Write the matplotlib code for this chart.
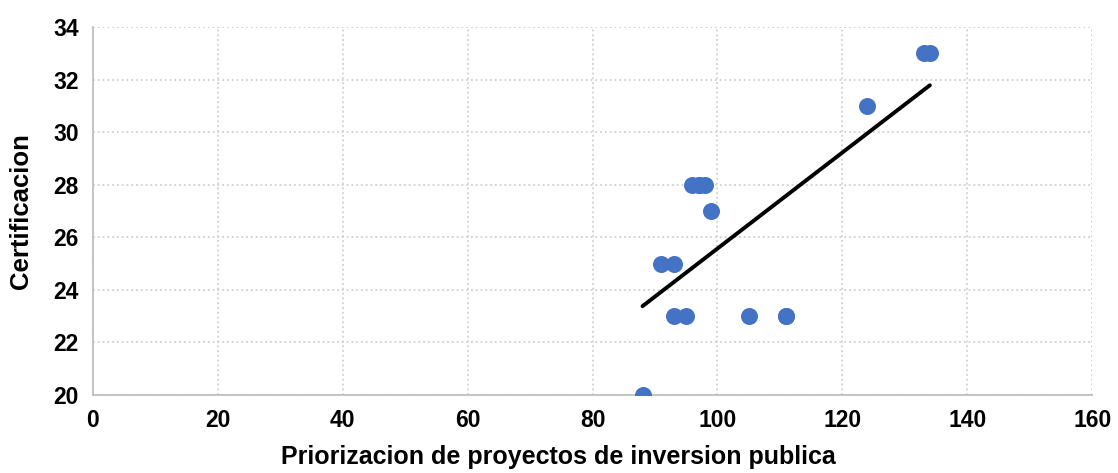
import numpy as np
import matplotlib
matplotlib.use("Agg")
import matplotlib.pyplot as plt

# Priorizacion vs Certificacion (some points overlap in the chart)
priorizacion = [88, 93, 95, 105, 111, 111, 91, 93, 99, 96, 97, 97, 98, 124, 133, 134]
certificacion = [20, 23, 23, 23, 23, 23, 25, 25, 27, 28, 28, 28, 28, 31, 33, 33]
x_ticks = [0, 20, 40, 60, 80, 100, 120, 140, 160]
y_ticks = [20, 22, 24, 26, 28, 30, 32, 34]

plt.rcParams['font.family'] = ['Liberation Sans', 'DejaVu Sans']

fig = plt.figure(figsize=(11.18, 4.73), dpi=100)
ax = fig.add_axes([0.083, 0.165, 0.894, 0.778])

ax.scatter(priorizacion, certificacion, s=150, color='#4472C4', zorder=3, linewidths=0)

# linear trend line
m, b = np.polyfit(priorizacion, certificacion, 1)
xs = np.array([min(priorizacion), max(priorizacion)])
ax.plot(xs, m * xs + b, color='black', lw=2.8, zorder=4, solid_capstyle='round')

ax.set_xlim(0, 160)
ax.set_ylim(20, 34)
ax.set_xticks(x_ticks)
ax.set_yticks(y_ticks)
ax.grid(True, linestyle=':', color='#D0D0D0', lw=1.3)
ax.set_axisbelow(True)

for s in ['top', 'right']:
    ax.spines[s].set_visible(False)
for s in ['left', 'bottom']:
    ax.spines[s].set_color('#BFBFBF')
    ax.spines[s].set_linewidth(1.3)

ax.tick_params(length=0, labelsize=16.5, pad=10)
for lab in ax.get_xticklabels() + ax.get_yticklabels():
    lab.set_fontweight('bold')

ax.set_xlabel('Priorizacion de proyectos de inversion publica', fontsize=18, fontweight='bold')
ax.set_ylabel('Certificacion', fontsize=18.5, fontweight='bold')
# titles centred on the whole chart area, like the original
ax.xaxis.set_label_coords(0.466, -0.135)
ax.yaxis.set_label_coords(-0.06, 0.5)

fig.savefig('out.png', dpi=100)
